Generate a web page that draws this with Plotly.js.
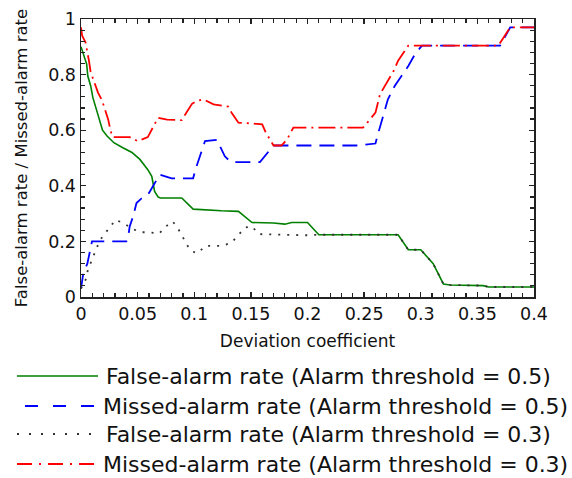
<!DOCTYPE html>
<html>
<head>
<meta charset="utf-8">
<script src="https://cdn.plot.ly/plotly-3.0.1.min.js"></script>
<style>
  html, body { margin: 0; padding: 0; background: #fff; }
  #chart { width: 572px; height: 478px; }
</style>
</head>
<body>
<div id="chart"></div>
<script>
// ---- Data ----
const seriesNames = [
  "False-alarm rate (Alarm threshold = 0.5)",
  "Missed-alarm rate (Alarm threshold = 0.5)",
  "False-alarm rate (Alarm threshold = 0.3)",
  "Missed-alarm rate (Alarm threshold = 0.3)"
];

const xFalse05 = [0, 0.002, 0.005, 0.006, 0.0085, 0.0105, 0.0135, 0.0165, 0.019, 0.023, 0.029, 0.037, 0.045, 0.052, 0.059, 0.0625, 0.065, 0.068, 0.07, 0.089, 0.099, 0.124, 0.139, 0.151, 0.17, 0.18, 0.186, 0.2, 0.21, 0.28, 0.289, 0.3, 0.311, 0.32, 0.326, 0.355, 0.36, 0.4];
const yFalse05 = [0.9, 0.875, 0.838, 0.795, 0.76, 0.717, 0.675, 0.633, 0.6, 0.579, 0.555, 0.537, 0.52, 0.495, 0.458, 0.434, 0.38, 0.36, 0.356, 0.356, 0.316, 0.31, 0.308, 0.268, 0.266, 0.262, 0.268, 0.268, 0.224, 0.224, 0.17, 0.17, 0.12, 0.047, 0.043, 0.041, 0.036, 0.036];

const xMissed05 = [0, 0.002, 0.0056, 0.0077, 0.0097, 0.04, 0.0415, 0.043, 0.046, 0.049, 0.053, 0.06, 0.0636, 0.0656, 0.0695, 0.08, 0.099, 0.102, 0.105, 0.1095, 0.12, 0.123, 0.127, 0.1316, 0.136, 0.158, 0.162, 0.167, 0.17, 0.243, 0.25, 0.26, 0.2625, 0.267, 0.271, 0.277, 0.283, 0.289, 0.295, 0.301, 0.37, 0.379, 0.4];
const yMissed05 = [0.03, 0.085, 0.12, 0.158, 0.2, 0.2, 0.212, 0.254, 0.29, 0.338, 0.353, 0.374, 0.398, 0.416, 0.44, 0.427, 0.427, 0.47, 0.506, 0.561, 0.565, 0.537, 0.506, 0.488, 0.485, 0.485, 0.506, 0.53, 0.545, 0.545, 0.549, 0.552, 0.59, 0.65, 0.711, 0.759, 0.795, 0.831, 0.874, 0.904, 0.904, 0.97, 0.97];

const xFalse03 = [0, 0.0047, 0.006, 0.0106, 0.0135, 0.0165, 0.0215, 0.026, 0.0306, 0.038, 0.046, 0.053, 0.06, 0.069, 0.075, 0.081, 0.086, 0.09, 0.093, 0.098, 0.103, 0.11, 0.125, 0.133, 0.139, 0.145, 0.151, 0.157, 0.2, 0.21, 0.28, 0.289, 0.3, 0.311, 0.32, 0.326, 0.355, 0.36, 0.4];
const yFalse03 = [0.03, 0.067, 0.097, 0.145, 0.172, 0.203, 0.23, 0.256, 0.278, 0.264, 0.244, 0.233, 0.233, 0.228, 0.254, 0.272, 0.244, 0.215, 0.19, 0.164, 0.158, 0.184, 0.184, 0.196, 0.223, 0.25, 0.254, 0.226, 0.222, 0.224, 0.224, 0.17, 0.17, 0.12, 0.047, 0.043, 0.041, 0.036, 0.036];

const xMissed03 = [0, 0.001, 0.004, 0.0056, 0.007, 0.0085, 0.0106, 0.0126, 0.015, 0.0185, 0.021, 0.024, 0.026, 0.028, 0.043, 0.05, 0.059, 0.0636, 0.068, 0.076, 0.089, 0.093, 0.098, 0.102, 0.108, 0.117, 0.126, 0.13, 0.133, 0.139, 0.148, 0.16, 0.163, 0.167, 0.17, 0.177, 0.182, 0.1875, 0.249, 0.254, 0.26, 0.264, 0.27, 0.276, 0.28, 0.285, 0.289, 0.3685, 0.379, 0.4];
const yMissed03 = [0.97, 0.94, 0.916, 0.886, 0.85, 0.81, 0.783, 0.76, 0.735, 0.708, 0.675, 0.639, 0.6, 0.575, 0.575, 0.561, 0.575, 0.609, 0.645, 0.638, 0.636, 0.663, 0.695, 0.705, 0.711, 0.693, 0.687, 0.685, 0.663, 0.627, 0.625, 0.621, 0.593, 0.567, 0.545, 0.545, 0.567, 0.609, 0.609, 0.633, 0.663, 0.729, 0.771, 0.813, 0.85, 0.88, 0.904, 0.904, 0.97, 0.97];

const xTickVals = [0, 0.05, 0.1, 0.15, 0.2, 0.25, 0.3, 0.35, 0.4];
const xTickText = ["0", "0.05", "0.1", "0.15", "0.2", "0.25", "0.3", "0.35", "0.4"];
const yTickVals = [0, 0.2, 0.4, 0.6, 0.8, 1];
const yTickText = ["0", "0.2", "0.4", "0.6", "0.8", "1"];

const xTitle = "Deviation coefficient";
const yTitle = "False-alarm rate / Missed-alarm rate";

// ---- Styles ----
const styles = [
  {color: "#008000", dash: "solid", width: 1.6, legDash: "solid"},
  {color: "#0000ff", dash: "15px,8px", width: 1.8, legDash: "13px,15px"},
  {color: "#333333", dash: "2px,7px", width: 1.8, legDash: "2px,10px"},
  {color: "#ff0000", dash: "17px,5px,2px,5px", width: 1.8, legDash: "15px,7px,2px,7px"}
];

const xs = [xFalse05, xMissed05, xFalse03, xMissed03];
const ys = [yFalse05, yMissed05, yFalse03, yMissed03];

const traces = xs.map((x, i) => ({
  type: "scatter",
  mode: "lines",
  x: x,
  y: ys[i],
  name: seriesNames[i],
  line: {color: styles[i].color, dash: styles[i].dash, width: styles[i].width},
  showlegend: false,
  hoverinfo: "x+y+name"
}));

// custom legend (positions in px converted to paper coordinates)
const plotL = 81, plotR = 534, plotT = 19, plotB = 297;
const px = v => (v - plotL) / (plotR - plotL);
const py = v => (plotB - v) / (plotB - plotT);
const rowY = [376, 406, 434, 464];
const lineStart = [17, 25, 17, 17];
const lineEnd = [98, 98, 92, 98];
const textStart = [104, 101, 104, 101];

const shapes = [];
const annotations = [];
seriesNames.forEach((n, i) => {
  shapes.push({
    type: "line", xref: "paper", yref: "paper",
    x0: px(lineStart[i]), x1: px(lineEnd[i]), y0: py(rowY[i]), y1: py(rowY[i]),
    line: {color: styles[i].color, width: styles[i].width, dash: styles[i].legDash}
  });
  annotations.push({
    xref: "paper", yref: "paper", x: px(textStart[i]), y: py(rowY[i]),
    xanchor: "left", yanchor: "middle", showarrow: false, text: n,
    font: {family: "DejaVu Sans", size: 22, color: "#111"}
  });
});

const axisCommon = {
  showline: true, linecolor: "#222", linewidth: 1.5,
  mirror: "ticks", ticks: "inside", ticklen: 5, tickwidth: 1.3, tickcolor: "#222",
  showgrid: false, zeroline: false,
  tickfont: {family: "DejaVu Sans", size: 17.5, color: "#111"}
};

const layout = {
  width: 572, height: 478,
  margin: {l: plotL, r: 572 - plotR, t: plotT, b: 478 - plotB},
  paper_bgcolor: "#fff", plot_bgcolor: "#fff",
  showlegend: false,
  xaxis: Object.assign({}, axisCommon, {
    range: [0, 0.4], tickmode: "array", tickvals: xTickVals, ticktext: xTickText,
    minor: {dtick: 0.01, ticks: "inside", ticklen: 4, tickwidth: 1.2, tickcolor: "#222", showgrid: false},
    title: {text: xTitle, font: {family: "DejaVu Sans", size: 17, color: "#111"}, standoff: 12}
  }),
  yaxis: Object.assign({}, axisCommon, {
    range: [0, 1], tickmode: "array", tickvals: yTickVals, ticktext: yTickText,
    minor: {dtick: 0.04, tick0: 0, ticks: "inside", ticklen: 4, tickwidth: 1.2, tickcolor: "#222", showgrid: false},
    title: {text: yTitle, font: {family: "DejaVu Sans", size: 16.5, color: "#111"}, standoff: 16}
  }),
  shapes: shapes,
  annotations: annotations
};

Plotly.newPlot("chart", traces, layout, {displayModeBar: false, staticPlot: true});
</script>
</body>
</html>
